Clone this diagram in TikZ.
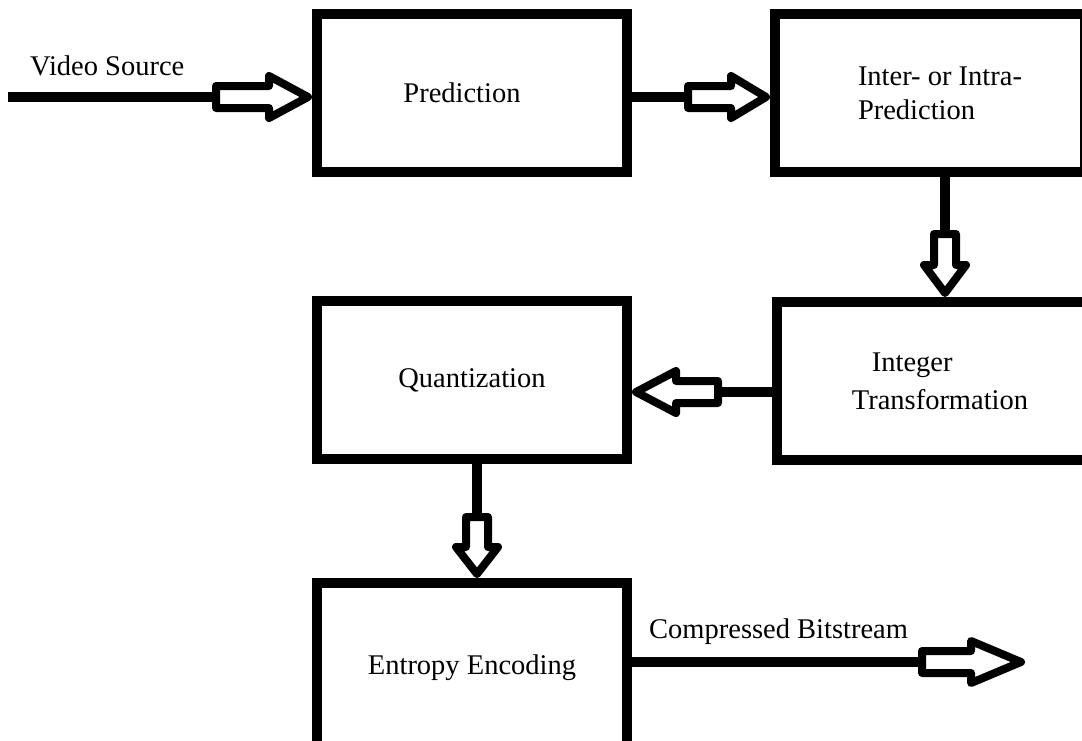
\documentclass[tikz,border=0pt]{standalone}
\usepackage{fontspec}
\setmainfont{Liberation Serif}
\usetikzlibrary{calc}

\tikzset{
  block/.style={draw, line width=10pt, minimum width=310pt, minimum height=158pt,
    inner sep=0pt, align=center, font=\fontsize{28.5}{34}\selectfont},
  lbl/.style={anchor=west, inner sep=0pt, font=\fontsize{28.5}{34}\selectfont},
  conn/.style={line width=10pt},
  pics/hollowarrow/.style 2 args={code={
    \draw[line width=8pt, line join=round, fill=white]
      (-#1+4,-11) -- (-#2+4,-11) -- (-#2+4,-21) -- (-4,0)
      -- (-#2+4,21) -- (-#2+4,11) -- (-#1+4,11) -- cycle;
    \coordinate (-tail) at (-#1,0);
  }}
}

\begin{document}
\begin{tikzpicture}[x=1pt,y=-1pt]
  \useasboundingbox (0,0) rectangle (1082,740);

  % blocks
  \node[block] (pred) at (472,93) {Prediction\hspace*{20pt}};
  \node[block, align=left] (inter) at (930,93) {\hspace*{20pt}Inter- or Intra-\\\hspace*{20pt}Prediction};
  \node[block, align=left] (intg) at (932,381) {\hspace*{36pt}Integer\\[4pt]\hspace*{16pt}Transformation};
  \node[block] (quant) at (472,380) {Quantization};
  \node[block, minimum height=170pt] (ent) at (472,668) {Entropy Encoding};

  % input and output
  \coordinate (src) at (8,97);
  \coordinate (bitout) at (1025,662);
  \node[lbl] (srclbl) at (30,66) {Video Source};
  \node[lbl] (outlbl) at (649,632) {Compressed Bitstream};

  % hollow arrows
  \pic (a1) at ([yshift=-4]pred.west) {hollowarrow={100}{47}};
  \pic (a2) at ([yshift=-4]inter.west) {hollowarrow={86}{43}};
  \pic[rotate=-90] (a3) at ([xshift=13]intg.north) {hollowarrow={67}{36}};
  \pic[rotate=180] (a4) at ([yshift=-12]quant.east) {hollowarrow={90}{48}};
  \pic[rotate=-90] (a5) at ([xshift=5]ent.north) {hollowarrow={65}{35}};
  \pic (a6) at (bitout) {hollowarrow={107}{58}};

  % connectors
  \draw[conn] (src) -- (a1-tail);
  \draw[conn] (a2-tail -| pred.east) -- (a2-tail);
  \draw[conn] (a3-tail |- inter.south) -- (a3-tail);
  \draw[conn] (a4-tail -| intg.west) -- (a4-tail);
  \draw[conn] (a5-tail |- quant.south) -- (a5-tail);
  \draw[conn] (a6-tail -| ent.east) -- (a6-tail);
\end{tikzpicture}
\end{document}
